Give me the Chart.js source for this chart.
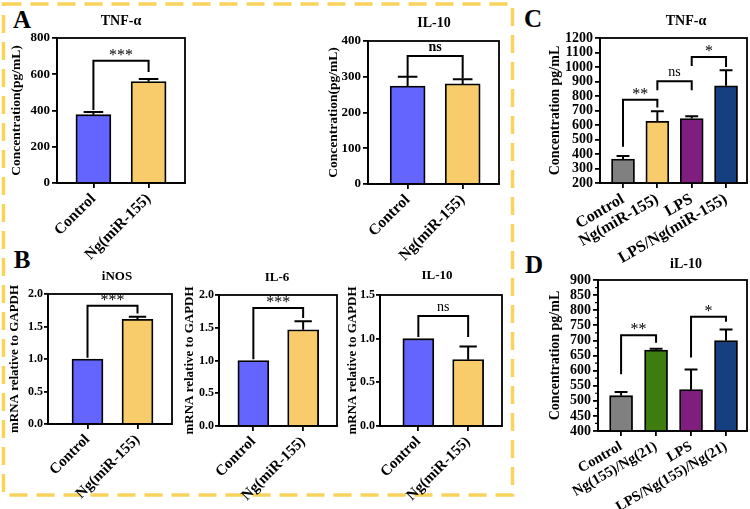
<!DOCTYPE html>
<html>
<head>
<meta charset="utf-8">
<script src="https://cdn.jsdelivr.net/npm/chart.js@4.4.0/dist/chart.umd.min.js"></script>
<style>
body{margin:0;background:#fff;}
#wrap{position:relative;width:750px;height:509px;overflow:hidden;background:#fff;}
.lt{position:absolute;font:bold 25px 'Liberation Serif',serif;color:#000;transform:translate(-50%,-50%);}
canvas{position:absolute;}
</style>
</head>
<body>
<div id="wrap">
<svg width="750" height="509" style="position:absolute;left:0;top:0">
  <rect x="3.5" y="4" width="509" height="491" fill="none" stroke="#F9D35C" stroke-width="3.5" stroke-dasharray="18 9"/>
</svg>
<div class="lt" style="left:22px;top:20px">A</div>
<div class="lt" style="left:22px;top:260px">B</div>
<div class="lt" style="left:533px;top:19px">C</div>
<div class="lt" style="left:534px;top:265px">D</div>
</div>
<script>
// ---- data ----
const catsAB = ['Control', 'Ng(miR-155)'];
const catsC = ['Control', 'Ng(miR-155)', 'LPS', 'LPS/Ng(miR-155)'];
const catsD = ['Control', 'Ng(155)/Ng(21)', 'LPS', 'LPS/Ng(155)/Ng(21)'];

// A: ELISA
const aTnf = [377, 560];
const aTnfErr = [392, 574];
const aTnfSig = [[0, 1, 674, 403, 612, '***']];
const aIl10 = [274, 280];
const aIl10Err = [300, 293];
const aIl10Sig = [[0, 1, 358, 302, 296, 'ns']];

// B: qPCR
const bInos = [1.0, 1.61];
const bInosErr = [null, 1.65];
const bInosSig = [[0, 1, 1.82, 1.02, 1.70, '***']];
const bIl6 = [1.0, 1.47];
const bIl6Err = [null, 1.60];
const bIl6Sig = [[0, 1, 1.80, 1.02, 1.65, '***']];
const bIl10 = [1.0, 0.76];
const bIl10Err = [null, 0.91];
const bIl10Sig = [[0, 1, 1.26, 1.02, 1.02, 'ns']];

// C: TNF-a
const cTnf = [365, 625, 645, 870];
const cTnfErr = [386, 695, 660, 978];
const cTnfSig = [[0, 1, 775, 450, 720, '**'], [1, 2, 901, 840, 840, 'ns'], [2, 3, 1069, 1007, 1000, '*']];

// D: IL-10
const dIl10 = [517, 668, 537, 699];
const dIl10Err = [529, 672, 604, 736];
const dIl10Sig = [[0, 1, 717, 588, 692, '**'], [2, 3, 778, 643, 762, '*']];

const colAB = ['#6464FF', '#F9CC6B'];
const colC = ['#808080', '#F9CC6B', '#801E80', '#163F80'];
const colD = ['#808080', '#3D7C0E', '#801E80', '#163F80'];

const serif = "'Liberation Serif', 'Times New Roman', serif";

function makePanel(p) {
  const [L, T, R, B] = p.box;
  const left = L - p.yW, top = T - p.padTop;
  const w = p.yW + (R - L) + p.padRight, h = p.padTop + (B - T) + p.xH;
  const cv = document.createElement('canvas');
  cv.width = w; cv.height = h;
  cv.style.left = left + 'px'; cv.style.top = top + 'px';
  cv.style.width = w + 'px'; cv.style.height = h + 'px';
  document.getElementById('wrap').appendChild(cv);

  const annot = {
    id: 'annot',
    afterDatasetsDraw(chart) {
      const ctx = chart.ctx, xs = chart.scales.x, ys = chart.scales.y, a = chart.chartArea;
      ctx.save();
      ctx.strokeStyle = '#000';
      ctx.lineWidth = 1.8;
      ctx.strokeRect(a.left, a.top, a.right - a.left, a.bottom - a.top);
      // minor ticks on the y axis
      if (p.minor) {
        ctx.lineWidth = 1.2;
        ctx.beginPath();
        for (let v = p.yRange[0]; v <= p.yRange[1]; v += p.minor) {
          if (Math.abs(v % p.step) < 1e-9) continue;
          const y = ys.getPixelForValue(v);
          ctx.moveTo(a.left - 3, y); ctx.lineTo(a.left, y);
        }
        ctx.stroke();
      }
      // error bars (upper only)
      ctx.lineWidth = 2;
      chart.getDatasetMeta(0).data.forEach((bar, i) => {
        const e = p.err[i];
        if (e == null) return;
        const yt = ys.getPixelForValue(e), half = p.barW * 0.28;
        ctx.beginPath();
        ctx.moveTo(bar.x, bar.y); ctx.lineTo(bar.x, yt);
        ctx.moveTo(bar.x - half, yt); ctx.lineTo(bar.x + half, yt);
        ctx.stroke();
      });
      // significance brackets
      ctx.fillStyle = '#000';
      ctx.textAlign = 'center';
      ctx.textBaseline = 'bottom';
      p.sig.forEach(([i, j, hi, lo1, lo2, txt]) => {
        const x1 = xs.getPixelForValue(i), x2 = xs.getPixelForValue(j), yt = ys.getPixelForValue(hi);
        ctx.beginPath();
        ctx.moveTo(x1, ys.getPixelForValue(lo1));
        ctx.lineTo(x1, yt); ctx.lineTo(x2, yt);
        ctx.lineTo(x2, ys.getPixelForValue(lo2));
        ctx.stroke();
        if (txt === 'ns') {
          ctx.font = (p.nsBold ? 'bold ' : '') + '14px ' + serif;
          ctx.fillText(txt, (x1 + x2) / 2, yt - 2);
        } else {
          ctx.font = '16px ' + serif;
          ctx.fillText(txt, (x1 + x2) / 2, yt + 3);
        }
      });
      // panel title
      ctx.font = 'bold ' + p.titleSize + 'px ' + serif;
      ctx.textBaseline = 'middle';
      ctx.fillText(p.title, p.titleAt[0] - left, p.titleAt[1] - top);
      ctx.restore();
    }
  };

  new Chart(cv, {
    type: 'bar',
    data: {
      datasets: [{
        data: p.vals.map((v, i) => ({x: i, y: v})),
        backgroundColor: p.colors,
        borderColor: '#000',
        borderWidth: 1.8,
        barThickness: p.barW
      }]
    },
    options: {
      responsive: false,
      animation: false,
      events: [],
      layout: {padding: {top: p.padTop, right: p.padRight, left: 0, bottom: 0}},
      plugins: {legend: {display: false}, tooltip: {enabled: false}},
      scales: {
        x: {
          type: 'linear', min: p.xRange[0], max: p.xRange[1], offset: false,
          afterBuildTicks: s => { s.ticks = p.cats.map((c, i) => ({value: i})); },
          afterFit: s => { s.height = p.xH; s.paddingLeft = 0; s.paddingRight = 0; },
          ticks: {
            callback: v => p.cats[v], minRotation: p.rot, maxRotation: p.rot, autoSkip: false,
            font: {family: serif, weight: 'bold', size: p.xFont}, color: '#000', padding: 2
          },
          grid: {offset: false, drawOnChartArea: false, tickLength: 5, color: '#000', lineWidth: 1.8},
          border: {color: '#000', width: 1.8}
        },
        y: {
          min: p.yRange[0], max: p.yRange[1],
          afterFit: s => { s.width = p.yW; s.paddingTop = 0; s.paddingBottom = 0; },
          ticks: {
            stepSize: p.step, autoSkip: false, callback: v => v.toFixed(p.dec),
            font: {family: serif, weight: 'bold', size: p.tickFont}, color: '#000', padding: p.tickPad || 2
          },
          grid: {drawOnChartArea: false, tickLength: p.tickLen || 5, color: '#000', lineWidth: 1.8},
          border: {color: '#000', width: 1.8},
          title: {display: true, text: p.yTitle, color: '#000', padding: 0,
                  font: {family: serif, weight: 'bold', size: p.yTitleSize}}
        }
      }
    },
    plugins: [annot]
  });
}

// A
makePanel({box: [57, 38, 185, 183], yW: 49, padTop: 30, padRight: 8, xH: 80,
  cats: catsAB, vals: aTnf, err: aTnfErr, sig: aTnfSig, colors: colAB,
  xRange: [-0.66, 1.66], barW: 35, rot: 45, xFont: 15.5,
  yRange: [0, 800], step: 200, dec: 0, tickFont: 13,
  yTitle: 'Concentration(pg/mL)', yTitleSize: 13.5,
  title: 'TNF-α', titleAt: [121, 21], titleSize: 14});
makePanel({box: [368, 41, 499, 184], yW: 43, padTop: 30, padRight: 8, xH: 80,
  cats: catsAB, vals: aIl10, err: aIl10Err, sig: aIl10Sig, colors: colAB, nsBold: true,
  xRange: [-0.72, 1.66], barW: 35, rot: 45, xFont: 15.5,
  yRange: [0, 400], step: 100, dec: 0, tickFont: 13,
  yTitle: 'Concentration(pg/mL)', yTitleSize: 13.5,
  title: 'IL-10', titleAt: [434, 23], titleSize: 14});

// B
makePanel({box: [48, 294, 172, 424], yW: 41, padTop: 28, padRight: 8, xH: 85,
  cats: catsAB, vals: bInos, err: bInosErr, sig: bInosSig, colors: colAB,
  xRange: [-0.79, 1.69], barW: 31, rot: 45, xFont: 15,
  yRange: [0, 2], step: 0.5, dec: 1, tickFont: 12, tickPad: 1, tickLen: 4,
  yTitle: 'mRNA relative to GAPDH', yTitleSize: 13,
  title: 'iNOS', titleAt: [117, 277], titleSize: 13});
makePanel({box: [219, 295, 337, 426], yW: 37, padTop: 28, padRight: 8, xH: 85,
  cats: catsAB, vals: bIl6, err: bIl6Err, sig: bIl6Sig, colors: colAB,
  xRange: [-0.69, 1.68], barW: 31, rot: 45, xFont: 15,
  yRange: [0, 2], step: 0.5, dec: 1, tickFont: 12, tickPad: 1, tickLen: 4,
  yTitle: 'mRNA relative to GAPDH', yTitleSize: 13,
  title: 'IL-6', titleAt: [277, 278], titleSize: 13});
makePanel({box: [380, 295, 502, 426], yW: 35, padTop: 28, padRight: 8, xH: 85,
  cats: catsAB, vals: bIl10, err: bIl10Err, sig: bIl10Sig, colors: colAB,
  xRange: [-0.77, 1.68], barW: 31, rot: 45, xFont: 15,
  yRange: [0, 1.5], step: 0.5, dec: 1, tickFont: 12, tickPad: 1, tickLen: 4,
  yTitle: 'mRNA relative to GAPDH', yTitleSize: 13,
  title: 'IL-10', titleAt: [437, 276], titleSize: 13});

// C
makePanel({box: [600, 38, 747, 183], yW: 53, padTop: 30, padRight: 3, xH: 90,
  cats: catsC, vals: cTnf, err: cTnfErr, sig: cTnfSig, colors: colC,
  xRange: [-0.67, 3.61], barW: 23, rot: 30, xFont: 16,
  yRange: [200, 1200], step: 100, dec: 0, tickFont: 14,
  yTitle: 'Concentration pg/mL', yTitleSize: 14,
  title: 'TNF-α', titleAt: [686, 21], titleSize: 14});

// D
makePanel({box: [598, 280, 747, 431], yW: 51, padTop: 30, padRight: 3, xH: 78,
  cats: catsD, vals: dIl10, err: dIl10Err, sig: dIl10Sig, colors: colD,
  xRange: [-0.66, 3.6], barW: 23, rot: 30, xFont: 14.5, minor: 25,
  yRange: [400, 900], step: 50, dec: 0, tickFont: 14,
  yTitle: 'Concentration pg/mL', yTitleSize: 14,
  title: 'iL-10', titleAt: [686, 264], titleSize: 14});
</script>
</body>
</html>
